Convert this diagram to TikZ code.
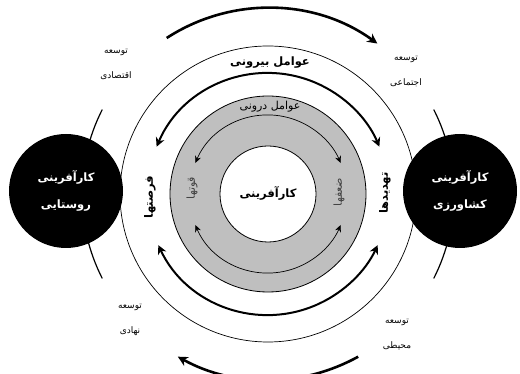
\documentclass[tikz,border=0pt]{standalone}
\usepackage{fontspec}
\newfontfamily\fa[Script=Arabic]{DejaVu Sans}
\TeXXeTstate=1
\usetikzlibrary{arrows.meta}
\newcommand{\rl}[1]{\beginR#1\endR}

\begin{document}
\begin{tikzpicture}[x=1pt, y=1pt,
  every node/.style={font=\fa\fontsize{9}{25}\selectfont, align=center, inner sep=1pt},
  hub/.style={circle, fill=black, text=white, minimum size=114pt, inner sep=0pt,
    font=\fa\bfseries\fontsize{11.5}{27}\selectfont},
  midlbl/.style={font=\fa\bfseries\fontsize{11.5}{13}\selectfont},
  sidelbl/.style={rotate=90, font=\fa\bfseries\fontsize{11.5}{13}\selectfont},
  ringlbl/.style={rotate=90, font=\fa\fontsize{11}{13}\selectfont, text=black!75},
  bigarrow/.style={line width=2.6pt, -{Stealth[length=10pt,width=10pt]}},
  ringarrow/.style={line width=2pt, {Stealth[length=9pt,width=9pt]}-{Stealth[length=9pt,width=9pt]}},
  innerarrow/.style={line width=0.7pt, {Stealth[length=7pt,width=6pt]}-{Stealth[length=7pt,width=6pt]}}]
  \useasboundingbox (0,0) rectangle (520,374);
  \coordinate (c) at (268,180);
  % outer thin ring
  \draw[line width=0.7pt] (c) circle (148);
  % big turning arrows
  \draw[bigarrow] ([shift={(123:186)}]c) arc[start angle=123, end angle=54, radius=186];
  \draw[bigarrow] ([shift={(-61:186)}]c) arc[start angle=-61, end angle=-119, radius=186];
  \foreach \a/\b in {153/167, 207/193, 27/13, -27/-13}
    \draw[line width=1.2pt] ([shift={(\a:186)}]c) arc[start angle=\a, end angle=\b, radius=186];
  % outer factors ring
  \draw[ringarrow] ([shift={(157:121)}]c) arc[start angle=157, end angle=23, radius=121];
  \draw[ringarrow] ([shift={(205:121)}]c) arc[start angle=205, end angle=335, radius=121];
  % inner factors ring
  \draw[fill=gray!50, line width=0.8pt] (c) circle (98);
  \draw[fill=white, line width=0.8pt] (c) circle (48);
  \draw[innerarrow] ([shift={(157:79)}]c) arc[start angle=157, end angle=23, radius=79];
  \draw[innerarrow] ([shift={(203:79)}]c) arc[start angle=203, end angle=337, radius=79];
  % hubs
  \node[hub] (rural) at (66,183) {\rl{کارآفرینی}\\\rl{روستایی}};
  \node[hub] (agri) at (460,183) {\rl{کارآفرینی}\\\rl{کشاورزی}};
  % labels
  \node[midlbl] (core) at (268,181) {\rl{کارآفرینی}};
  \node[midlbl] (outer) at (270,311) {\rl{عوامل بیرونی}};
  \node[font=\fa\fontsize{11}{13}\selectfont] (inner) at (270,267) {\rl{عوامل درونی}};
  \node[sidelbl] (opp) at (150,177) {\rl{فرصتها}};
  \node[sidelbl] (thr) at (385,181) {\rl{تهدیدها}};
  \node[ringlbl] (str) at (192,186) {\rl{قوتها}};
  \node[ringlbl] (wea) at (339,182) {\rl{ضعفها}};
  \node (eco) at (116,310) {\rl{توسعه}\\\rl{اقتصادی}};
  \node (soc) at (406,303) {\rl{توسعه}\\\rl{اجتماعی}};
  \node (ins) at (130,54) {\rl{توسعه}\\\rl{نهادی}};
  \node (env) at (397,40) {\rl{توسعه}\\\rl{محیطی}};
\end{tikzpicture}
\end{document}
